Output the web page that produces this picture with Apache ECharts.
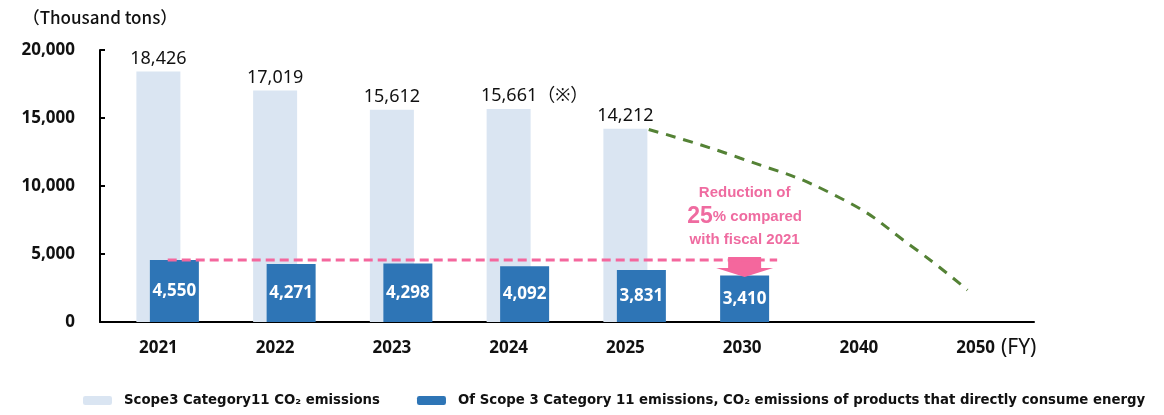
<!DOCTYPE html>
<html>
	<head>
		<meta charset="utf-8">
		<title>Scope3 Category11</title>
		<script src="https://cdn.jsdelivr.net/npm/echarts@6/dist/echarts.min.js"></script>
		<style>
			html, body { margin: 0; padding: 0; background: #fff; }
			#main { width: 1164px; height: 415px; }
		</style>
	</head>
	<body>
		<div id="main"></div>
		<script>
			// data
			var years = ['2021', '2022', '2023', '2024', '2025', '2030', '2040', '2050'];
			var scope3Total = [18426, 17019, 15612, 15661, 14212, '-', '-', '-'];
			var energyProducts = [4550, 4271, 4298, 4092, 3831, '-', '-', '-'];
			var target2030 = ['-', '-', '-', '-', '-', 3410, '-', '-'];
			// baseline (fiscal 2021) dashed line, x in category units
			var baseLine = [[0.58, 4550], [5.80, 4550]];
			// projected path to 2050, x in category units
			var pathTo2050 = [[4.70, 14150], [5.48, 12060], [6.34, 9120], [6.96, 5520], [7.43, 2350]];
			var yTicks = [0, 5000, 10000, 15000, 20000];

			var lightName = 'Scope3 Category11 CO₂ emissions';
			var darkName = 'Of Scope 3 Category 11 emissions, CO₂ emissions of products that directly consume energy';

			var lightColor = '#dae5f2';
			var darkColor = '#2e75b6';
			var pink = '#f4679d';
			var green = '#548235';
			var numFont = '"Noto Sans", "Noto Sans CJK JP", sans-serif';

			function fmt(v) {
				return Number(v).toLocaleString('en-US');
			}

			var lightData = scope3Total.map(function(v, i) {
				if (i === 3) return { value: v, label: { padding: [0, 0, 0, 52] } };
				return v;
			});

			var darkLabel = {
				show: true,
				position: 'inside',
				color: '#fff',
				fontWeight: 'bold',
				fontSize: 17,
				fontFamily: numFont,
				formatter: function(p) { return fmt(p.value); }
			};

			var chart = echarts.init(document.getElementById('main'));
			var option = {
				animation: false,
				textStyle: { fontFamily: numFont },
				grid: [
					{ left: 100, right: 130, top: 50, bottom: 93 },
					{ left: 116, right: 114, top: 50, bottom: 93 }
				],
				legend: {
					data: [lightName, darkName],
					left: 78,
					top: 389,
					itemWidth: 29,
					itemHeight: 9,
					itemGap: 37,
					selectedMode: false,
					textStyle: {
						fontFamily: '"DejaVu Sans", sans-serif',
						fontWeight: 'bold',
						fontSize: 13.3,
						color: '#111',
						padding: [0, 0, 0, 7]
					}
				},
				xAxis: [{
					type: 'category',
					gridIndex: 0,
					data: years,
					axisLine: { lineStyle: { color: '#000', width: 2 } },
					axisTick: { show: false },
					axisLabel: { color: '#111', fontWeight: 'bold', fontSize: 17, margin: 18 },
					name: '(FY)',
					nameLocation: 'end',
					nameGap: 0,
					nameTextStyle: {
						align: 'right',
						verticalAlign: 'top',
						padding: [16, 0, 0, 0],
						fontSize: 21,
						color: '#111',
						fontFamily: '"Noto Sans", sans-serif'
					}
				}, {
					type: 'category',
					gridIndex: 1,
					data: years,
					show: false
				}, {
					type: 'value',
					gridIndex: 0,
					min: 0,
					max: 8,
					show: false
				}],
				yAxis: [{
					type: 'value',
					gridIndex: 0,
					min: yTicks[0],
					max: yTicks[yTicks.length - 1],
					interval: yTicks[1] - yTicks[0],
					splitLine: { show: false },
					axisLine: { show: true, lineStyle: { color: '#000', width: 2 } },
					axisTick: { show: true, inside: true, length: 5, lineStyle: { color: '#000', width: 2 } },
					axisLabel: {
						color: '#111',
						fontWeight: 'bold',
						fontSize: 17,
						margin: 25,
						formatter: function(v) { return fmt(v); }
					},
					name: '（Thousand tons）',
					nameLocation: 'end',
					nameGap: 24,
					nameTextStyle: {
						align: 'center',
						fontSize: 17,
						color: '#111',
						fontWeight: 500,
						fontFamily: '"Noto Sans CJK JP", sans-serif'
					}
				}, {
					type: 'value',
					gridIndex: 1,
					min: yTicks[0],
					max: yTicks[yTicks.length - 1],
					show: false
				}],
				series: [{
					// 2030 target bar, centred on its category
					name: darkName,
					type: 'bar',
					xAxisIndex: 0,
					yAxisIndex: 0,
					barWidth: 49,
					barGap: '-100%',
					data: target2030,
					itemStyle: { color: darkColor },
					label: darkLabel,
					markPoint: {
						silent: true,
						data: [{
							coord: ['2030', 4044],
							symbol: 'path://M12,0 L45,0 L45,11 L57,11 L28.5,20 L0,11 L12,11 Z',
							symbolSize: [57, 20],
							itemStyle: { color: pink },
							label: {
								show: true,
								position: 'top',
								distance: 6,
								fontFamily: '"Liberation Sans", Arial, sans-serif',
								fontWeight: 'bold',
								color: '#ef6ba0',
								align: 'center',
								formatter: '{a|Reduction of}\n{b|25}{c|% compared}\n{a|with fiscal 2021}',
								rich: {
									a: { fontSize: 15, lineHeight: 22, fontWeight: 'bold', color: '#ef6ba0', fontFamily: '"Liberation Sans", Arial, sans-serif' },
									b: { fontSize: 23, lineHeight: 25, fontWeight: 'bold', color: '#ef6ba0', fontFamily: '"Liberation Sans", Arial, sans-serif' },
									c: { fontSize: 15, lineHeight: 25, fontWeight: 'bold', color: '#ef6ba0', fontFamily: '"Liberation Sans", Arial, sans-serif' }
								}
							}
						}]
					}
				}, {
					name: lightName,
					type: 'bar',
					xAxisIndex: 0,
					yAxisIndex: 0,
					barWidth: 44,
					barGap: '-100%',
					data: lightData,
					itemStyle: { color: lightColor },
					label: {
						show: true,
						position: 'top',
						distance: 4,
						color: '#111',
						fontSize: 18,
						fontFamily: numFont,
						formatter: function(p) {
							var s = fmt(p.value);
							return p.dataIndex === 3 ? s + '（※）' : s;
						}
					}
				}, {
					name: darkName,
					type: 'bar',
					xAxisIndex: 1,
					yAxisIndex: 1,
					barWidth: 49,
					data: energyProducts,
					itemStyle: { color: darkColor },
					label: darkLabel
				}, {
					type: 'line',
					xAxisIndex: 2,
					yAxisIndex: 0,
					data: baseLine,
					symbol: 'none',
					silent: true,
					z: 5,
					lineStyle: { color: pink, width: 3, type: [9, 5] }
				}, {
					type: 'line',
					xAxisIndex: 2,
					yAxisIndex: 0,
					data: pathTo2050,
					smooth: true,
					symbol: 'none',
					silent: true,
					z: 5,
					lineStyle: { color: green, width: 3, type: [10, 8] }
				}]
			};
			chart.setOption(option);
		</script>
	</body>
</html>
